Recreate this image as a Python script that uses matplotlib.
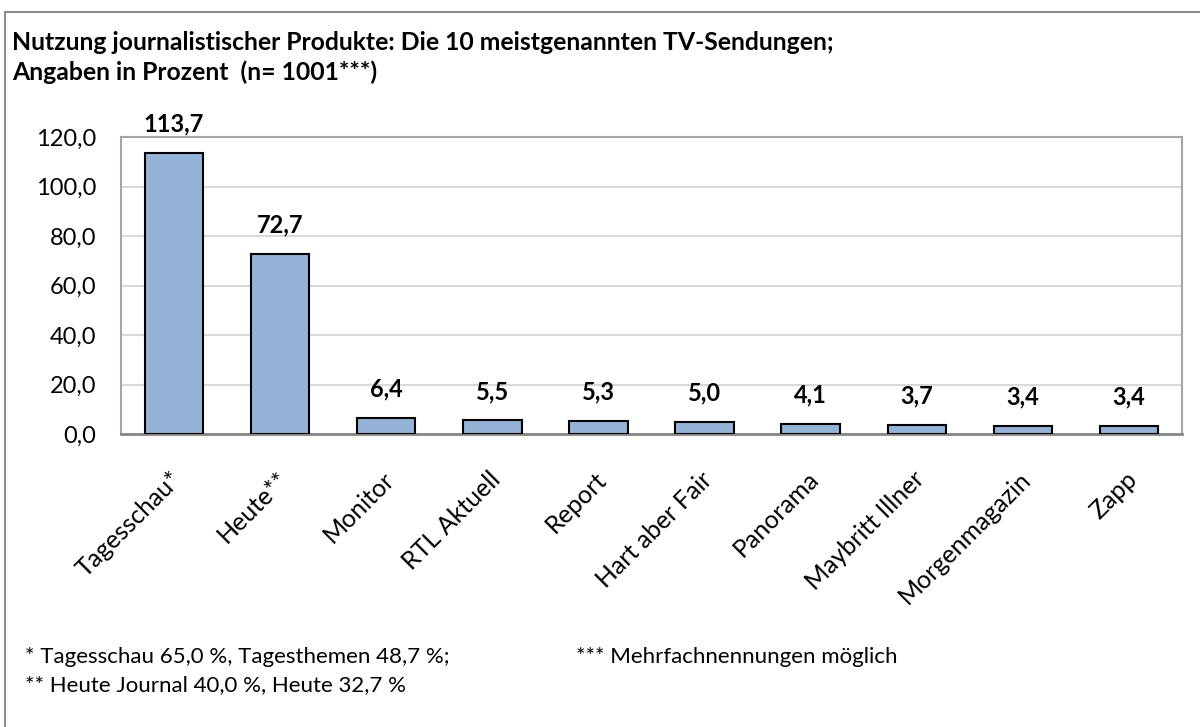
import numpy as np
import matplotlib.pyplot as plt
import matplotlib.transforms as mtransforms
from matplotlib.lines import Line2D

plt.rcParams['font.family'] = ['Lato', 'DejaVu Sans']

# data
sendungen = ['Tagesschau*', 'Heute**', 'Monitor', 'RTL Aktuell', 'Report',
             'Hart aber Fair', 'Panorama', 'Maybritt Illner', 'Morgenmagazin', 'Zapp']
werte = [113.7, 72.7, 6.4, 5.5, 5.3, 5.0, 4.1, 3.7, 3.4, 3.4]
y_ticks = [0, 20, 40, 60, 80, 100, 120]

titel1 = 'Nutzung journalistischer Produkte: Die 10 meistgenannten TV-Sendungen;'
titel2 = 'Angaben in Prozent  (n= 1001***)'
fussnote1 = '* Tagesschau 65,0 %, Tagesthemen 48,7 %;'
fussnote2 = '** Heute Journal 40,0 %, Heute 32,7 %'
fussnote3 = '*** Mehrfachnennungen möglich'

W, H = 1200, 727
fig = plt.figure(figsize=(12, 7.27), dpi=100)
ax = fig.add_axes([121 / W, 1 - 434 / H, (1182 - 121) / W, (434 - 137) / H])

x = np.arange(len(sendungen))
ax.bar(x, werte, width=0.55, color='#95B3D7', edgecolor='black', linewidth=1.5, zorder=3)

for xi, v in zip(x, werte):
    ax.annotate(f'{v:.1f}'.replace('.', ','), (xi, v), xytext=(0, 12.5),
                textcoords='offset points', ha='center', va='bottom',
                fontsize=17, fontweight='bold')

ax.set_xlim(-0.5, len(sendungen) - 0.5)
ax.set_ylim(0, 120)
ax.set_yticks(y_ticks)
ax.set_yticklabels([f'{t:.1f}'.replace('.', ',') for t in y_ticks], fontsize=17)
ax.yaxis.grid(True, color='#D9D9D9', linewidth=1.5, zorder=0)
ax.tick_params(axis='y', length=0, pad=18)
ax.set_xticks(x)
ax.set_xticklabels(sendungen, rotation=45, ha='right', va='top',
                   rotation_mode='anchor', fontsize=18)
ax.tick_params(axis='x', length=0, pad=24)
shift = mtransforms.ScaledTranslation(-4 / 100, 0, fig.dpi_scale_trans)
for lbl in ax.get_xticklabels():
    lbl.set_transform(lbl.get_transform() + shift)
for s in ax.spines.values():
    s.set_color('#A6A6A6')
    s.set_linewidth(1.5)
ax.spines['bottom'].set_color('#868686')
ax.spines['bottom'].set_linewidth(2)

fig.text(12 / W, 1 - 42 / H, titel1, fontsize=17.8, fontweight='bold', va='center')
fig.text(12 / W, 1 - 72 / H, titel2, fontsize=17.8, fontweight='bold', va='center')
fig.text(25 / W, 1 - 657 / H, fussnote1, fontsize=16, va='center')
fig.text(25 / W, 1 - 685 / H, fussnote2, fontsize=16, va='center')
fig.text(576 / W, 1 - 657 / H, fussnote3, fontsize=16, va='center')

# Rahmen
fig.add_artist(Line2D([5 / W, 1], [1 - 12 / H, 1 - 12 / H], transform=fig.transFigure,
                      color='#8C8C8C', linewidth=1.5))
fig.add_artist(Line2D([5 / W, 5 / W], [0, 1 - 12 / H], transform=fig.transFigure,
                      color='#8C8C8C', linewidth=1.5))

fig.savefig('out.png', dpi=100)
